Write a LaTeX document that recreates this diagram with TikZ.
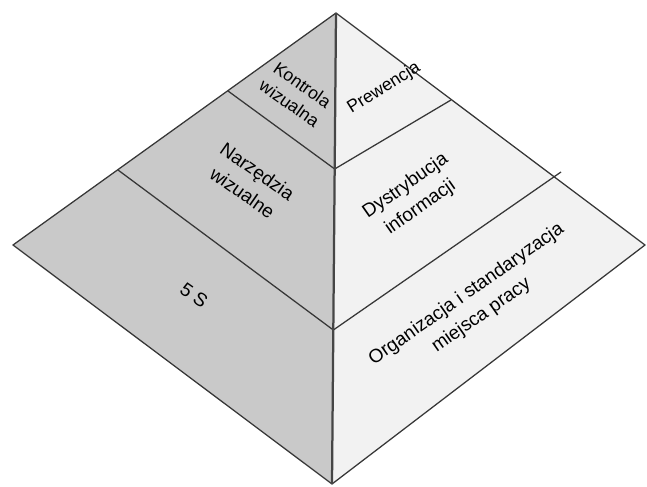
\documentclass[tikz,border=0pt]{standalone}
\usepackage{fontspec}
\setmainfont{Liberation Sans}

\definecolor{leftgray}{RGB}{201,201,201}
\definecolor{rightgray}{RGB}{242,242,242}
\definecolor{edgegray}{RGB}{55,55,55}

\begin{document}
\begin{tikzpicture}[
  edge/.style={draw=edgegray, line width=0.9pt, line join=round},
  axis/.style={draw=gray!55!black, line width=1.6pt},
  lefttext/.style={rotate=-35, align=center, font=\fontsize{13.5}{18.5}\selectfont},
  righttext/.style={rotate=35, align=center, font=\fontsize{13.5}{18.5}\selectfont},
  smalltext/.style={font=\fontsize{12.5}{16}\selectfont}
]
\useasboundingbox (0,0) rectangle (16.175,12.15);

% corners of the pyramid
\coordinate (top) at (8.4,11.825) ;
\coordinate (left) at (0.325,6.025) ;
\coordinate (right) at (16.125,6.025) ;
\coordinate (bottom) at (8.3,0.05) ;
\coordinate (mid) at (8.333,3.9) ;

% level lines
\coordinate (l1a) at (5.7,9.875) ;
\coordinate (l1b) at (8.367,7.925) ;
\coordinate (r1b) at (11.275,9.65) ;
\coordinate (l2a) at (2.95,7.9) ;
\coordinate (r2b) at (14.025,7.85) ;

\fill[leftgray] (top) -- (left) -- (bottom) -- cycle ;
\fill[rightgray] (top) -- (right) -- (bottom) -- cycle ;

\draw[edge] (l1a) -- (l1b) -- (r1b) ;
\draw[edge] (l2a) -- (mid) -- (r2b) ;
\draw[edge] (top) -- (left) -- (bottom) -- (right) -- cycle ;
\draw[axis] (top) -- (bottom) ;

% left face
\node[lefttext, smalltext] (kontrola) at (7.4,9.8) {Kontrola\\wizualna} ;
\node[lefttext] (narzedzia) at (6.25,7.6) {Narzędzia\\wizualne} ;
\node[lefttext] (fives) at (4.85,4.775) {5 S} ;

% right face
\node[righttext, smalltext, rotate=-3] (prewencja) at (9.6,9.95) {Prewencja} ;
\node[righttext] (dystrybucja) at (10.325,7.225) {Dystrybucja\\informacji} ;
\node[righttext] (organizacja) at (11.85,4.525) {Organizacja i standaryzacja\\miejsca pracy} ;
\end{tikzpicture}
\end{document}
